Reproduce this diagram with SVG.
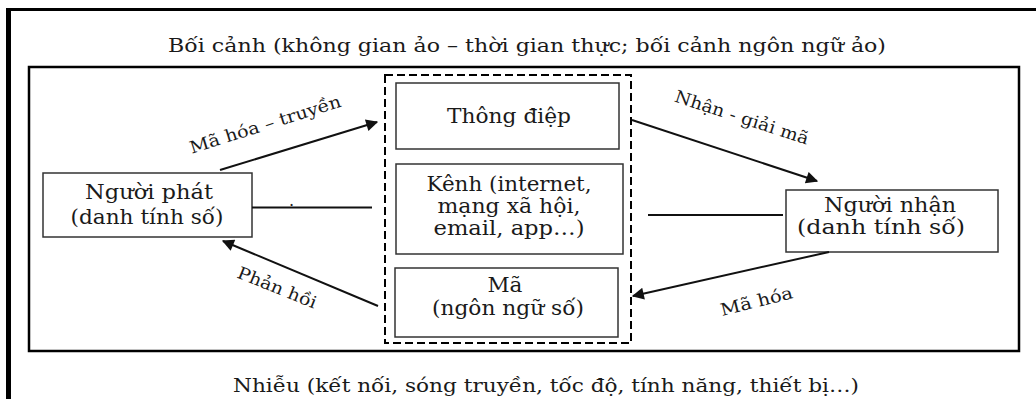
<svg xmlns="http://www.w3.org/2000/svg" width="1036" height="399" viewBox="0 0 1036 399">
<style>
.t{font-size:20px;text-anchor:middle}
.h{font-size:19px;text-anchor:middle}
.l{font-size:17px;text-anchor:middle}
.box{fill:#fff;stroke:#333;stroke-width:1.5}
.ln{stroke:#111;stroke-width:2;fill:none}
</style>
<defs>
<marker id="ah" viewBox="0 0 10 10" refX="9" refY="5" markerWidth="7" markerHeight="6" markerUnits="strokeWidth" orient="auto">
<path d="M0,0 L10,5 L0,10 Z" fill="#111"/>
</marker>
</defs>
<rect width="1036" height="399" fill="#fff"/>
<g id="frame">
<line x1="6" y1="9.5" x2="1036" y2="9.5" stroke="#000" stroke-width="3"/>
<line x1="8.5" y1="8" x2="8.5" y2="399" stroke="#000" stroke-width="5"/>
<rect x="29" y="67" width="990" height="284" fill="none" stroke="#000" stroke-width="2.5"/>
<rect x="385" y="75" width="246" height="268" fill="none" stroke="#000" stroke-width="2" stroke-dasharray="8 4"/>
</g>
<g font-family="'DejaVu Serif', 'Liberation Serif', serif" fill="#1a1a1a">
<g id="context"><text class="h" x="527" y="52" textLength="718" lengthAdjust="spacingAndGlyphs">Bối cảnh (không gian ảo – thời gian thực; bối cảnh ngôn ngữ ảo)</text></g>
<g id="noise"><text class="h" x="546" y="392" textLength="626" lengthAdjust="spacingAndGlyphs">Nhiễu (kết nối, sóng truyền, tốc độ, tính năng, thiết bị…)</text></g>
<g id="message">
<rect class="box" x="396" y="83" width="223" height="66"/>
<text class="t" x="509" y="123" textLength="124" lengthAdjust="spacingAndGlyphs">Thông điệp</text>
</g>
<g id="channel">
<rect class="box" x="396" y="164" width="227" height="90"/>
<text class="t" x="509" y="191" textLength="165" lengthAdjust="spacingAndGlyphs">Kênh (internet,</text>
<text class="t" x="509" y="213" textLength="143" lengthAdjust="spacingAndGlyphs">mạng xã hội,</text>
<text class="t" x="509" y="235" textLength="151" lengthAdjust="spacingAndGlyphs">email, app…)</text>
</g>
<g id="code">
<rect class="box" x="395" y="268" width="223" height="69"/>
<text class="t" x="505" y="292" textLength="35" lengthAdjust="spacingAndGlyphs">Mã</text>
<text class="t" x="508" y="315" textLength="152" lengthAdjust="spacingAndGlyphs">(ngôn ngữ số)</text>
</g>
<g id="sender">
<rect class="box" x="43" y="173" width="209" height="64"/>
<text class="t" x="149" y="199" textLength="128" lengthAdjust="spacingAndGlyphs">Người phát</text>
<text class="t" x="147" y="224" textLength="153" lengthAdjust="spacingAndGlyphs">(danh tính số)</text>
</g>
<g id="receiver">
<rect class="box" x="786" y="190" width="212" height="62"/>
<text class="t" x="890" y="212" textLength="132" lengthAdjust="spacingAndGlyphs">Người nhận</text>
<text class="t" x="881" y="234" textLength="168" lengthAdjust="spacingAndGlyphs">(danh tính số)</text>
</g>
<g id="connectors">
<line class="ln" x1="220" y1="170" x2="377" y2="122" marker-end="url(#ah)"/>
<line class="ln" x1="632" y1="120" x2="817" y2="181" marker-end="url(#ah)"/>
<line class="ln" x1="378" y1="306" x2="223" y2="241" marker-end="url(#ah)"/>
<line class="ln" x1="829" y1="252" x2="633" y2="296" marker-end="url(#ah)"/>
<line class="ln" x1="252" y1="207.5" x2="372" y2="207.5"/>
<line class="ln" x1="648" y1="215" x2="783" y2="215"/>
<text x="289" y="206" font-size="16">.</text>
<text class="l" transform="translate(267,130) rotate(-17.5)" textLength="158" lengthAdjust="spacingAndGlyphs">Mã hóa – truyền</text>
<text class="l" transform="translate(740,123) rotate(18)" textLength="140" lengthAdjust="spacingAndGlyphs">Nhận - giải mã</text>
<text class="l" transform="translate(275,293) rotate(22)" textLength="84" lengthAdjust="spacingAndGlyphs">Phản hồi</text>
<text class="l" transform="translate(758,307) rotate(-14)" textLength="74" lengthAdjust="spacingAndGlyphs">Mã hóa</text>
</g>
</g>
</svg>
